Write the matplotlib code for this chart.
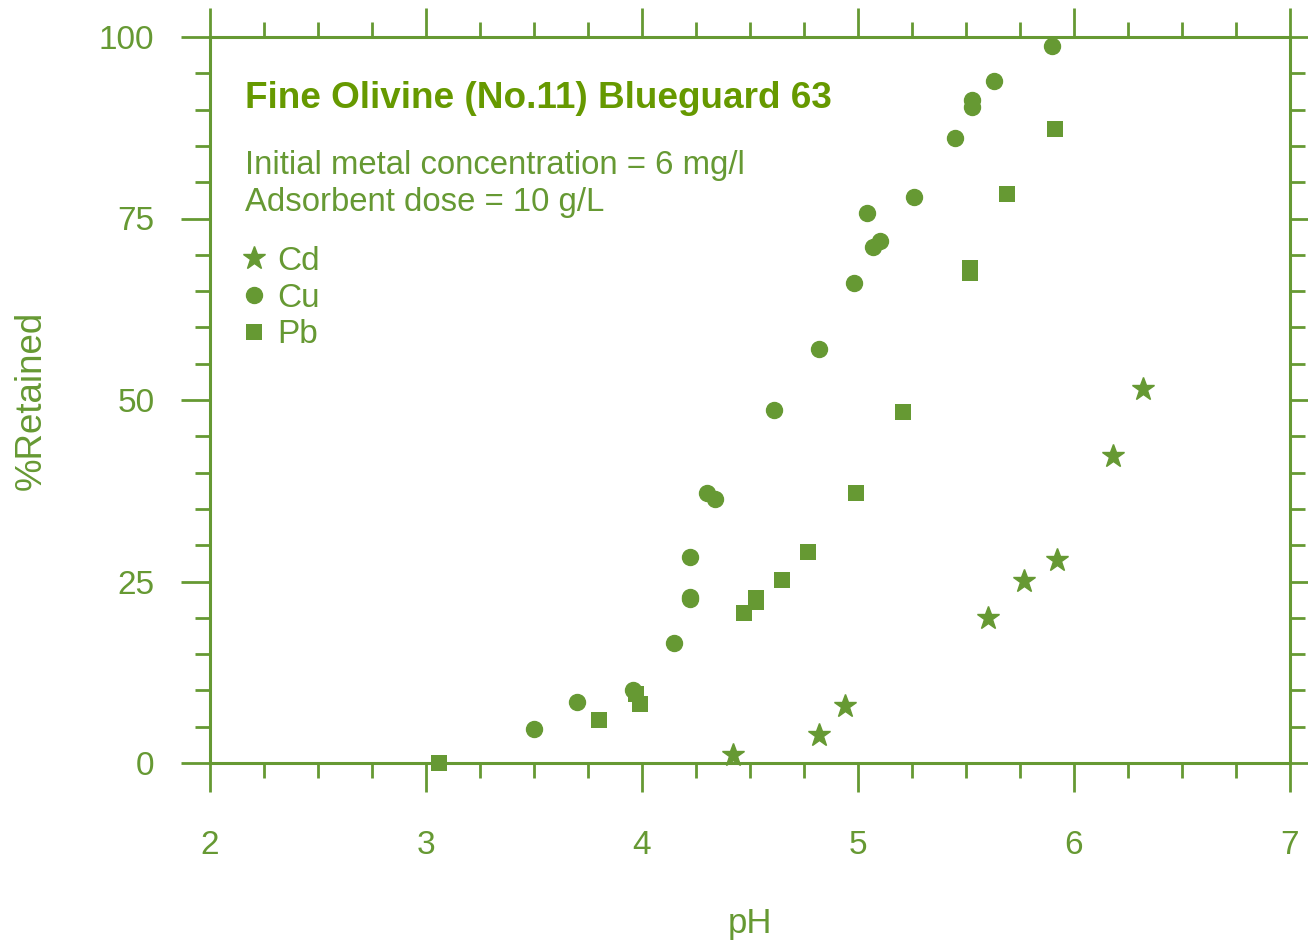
import matplotlib
matplotlib.use("Agg")
import matplotlib.pyplot as plt
from matplotlib.ticker import MultipleLocator

plt.rcParams['font.family'] = ['Liberation Sans', 'DejaVu Sans']

GREEN = '#669933'
TITLE_GREEN = '#669900'

# Data (pH, %Retained)
cd_ph = [4.42, 4.82, 4.94, 5.60, 5.77, 5.92, 6.18, 6.32]
cd_ret = [1.1, 3.9, 7.9, 20.0, 25.1, 28.0, 42.3, 51.5]

cu_ph = [3.50, 3.70, 3.96, 4.15, 4.22, 4.22, 4.22, 4.30, 4.34, 4.61, 4.82, 4.98,
         5.04, 5.07, 5.10, 5.26, 5.45, 5.53, 5.53, 5.63, 5.90]
cu_ret = [4.7, 8.4, 10.1, 16.5, 22.6, 22.9, 28.4, 37.2, 36.4, 48.6, 57.0, 66.1,
          75.8, 71.1, 71.9, 77.9, 86.1, 90.4, 91.3, 93.9, 98.7]

pb_ph = [3.06, 3.80, 3.97, 3.99, 4.47, 4.53, 4.53, 4.65, 4.77, 4.99, 5.21,
         5.52, 5.52, 5.69, 5.91]
pb_ret = [0.0, 5.9, 9.5, 8.1, 20.7, 22.7, 22.2, 25.2, 29.0, 37.2, 48.3,
          68.2, 67.5, 78.4, 87.3]

x_ticks = [2, 3, 4, 5, 6, 7]
y_ticks = [0, 25, 50, 75, 100]

title = 'Fine Olivine (No.11) Blueguard 63'
line1 = 'Initial metal concentration = 6 mg/l'
line2 = 'Adsorbent dose = 10 g/L'

fig = plt.figure(figsize=(13.08, 9.42), dpi=100)
ax = fig.add_axes([210/1308, 1-763/942, 1080/1308, 726/942])

ax.plot(cd_ph, cd_ret, linestyle='none', marker='*', ms=17, color=GREEN,
        mec=GREEN, label='Cd', clip_on=False, zorder=3)
ax.plot(cu_ph, cu_ret, linestyle='none', marker='o', ms=11.5, color=GREEN,
        mec=GREEN, label='Cu', clip_on=False, zorder=3)
ax.plot(pb_ph, pb_ret, linestyle='none', marker='s', ms=11.5, color=GREEN,
        mec=GREEN, mew=0, label='Pb', clip_on=False, zorder=3)

ax.set_xlim(2, 7)
ax.set_ylim(0, 100)
ax.set_xticks(x_ticks)
ax.set_yticks(y_ticks)
ax.xaxis.set_minor_locator(MultipleLocator(0.25))
ax.yaxis.set_minor_locator(MultipleLocator(5))

for sp in ax.spines.values():
    sp.set_color(GREEN)
    sp.set_linewidth(2.2)

ax.tick_params(which='both', direction='out', color=GREEN, width=2.0,
               top=True, right=True, labelcolor=GREEN, labelsize=24)
ax.tick_params(which='major', length=21)
ax.tick_params(which='minor', length=10.5)
ax.tick_params(axis='x', which='major', pad=27)
ax.tick_params(axis='y', which='major', pad=19)

ax.set_xlabel('pH', fontsize=25, color=GREEN, labelpad=33)
ax.set_ylabel('%Retained', fontsize=26.5, color=GREEN, labelpad=36)

ax.text(0.0324, 0.902, title, transform=ax.transAxes, fontsize=26.6,
        fontweight='bold', color=TITLE_GREEN, va='baseline', ha='left')
ax.text(0.0324, 0.811, line1, transform=ax.transAxes, fontsize=23.7,
        color=GREEN, va='baseline', ha='left')
ax.text(0.0324, 0.760, line2, transform=ax.transAxes, fontsize=23.7,
        color=GREEN, va='baseline', ha='left')

leg = ax.legend(loc='upper left', bbox_to_anchor=(0.0315, 0.712), frameon=False,
                fontsize=24, borderpad=0, borderaxespad=0, handlelength=0.6,
                handletextpad=0.4, labelspacing=0.17, markerscale=1.0)
for t in leg.get_texts():
    t.set_color(GREEN)

fig.savefig('out.png', dpi=100)
